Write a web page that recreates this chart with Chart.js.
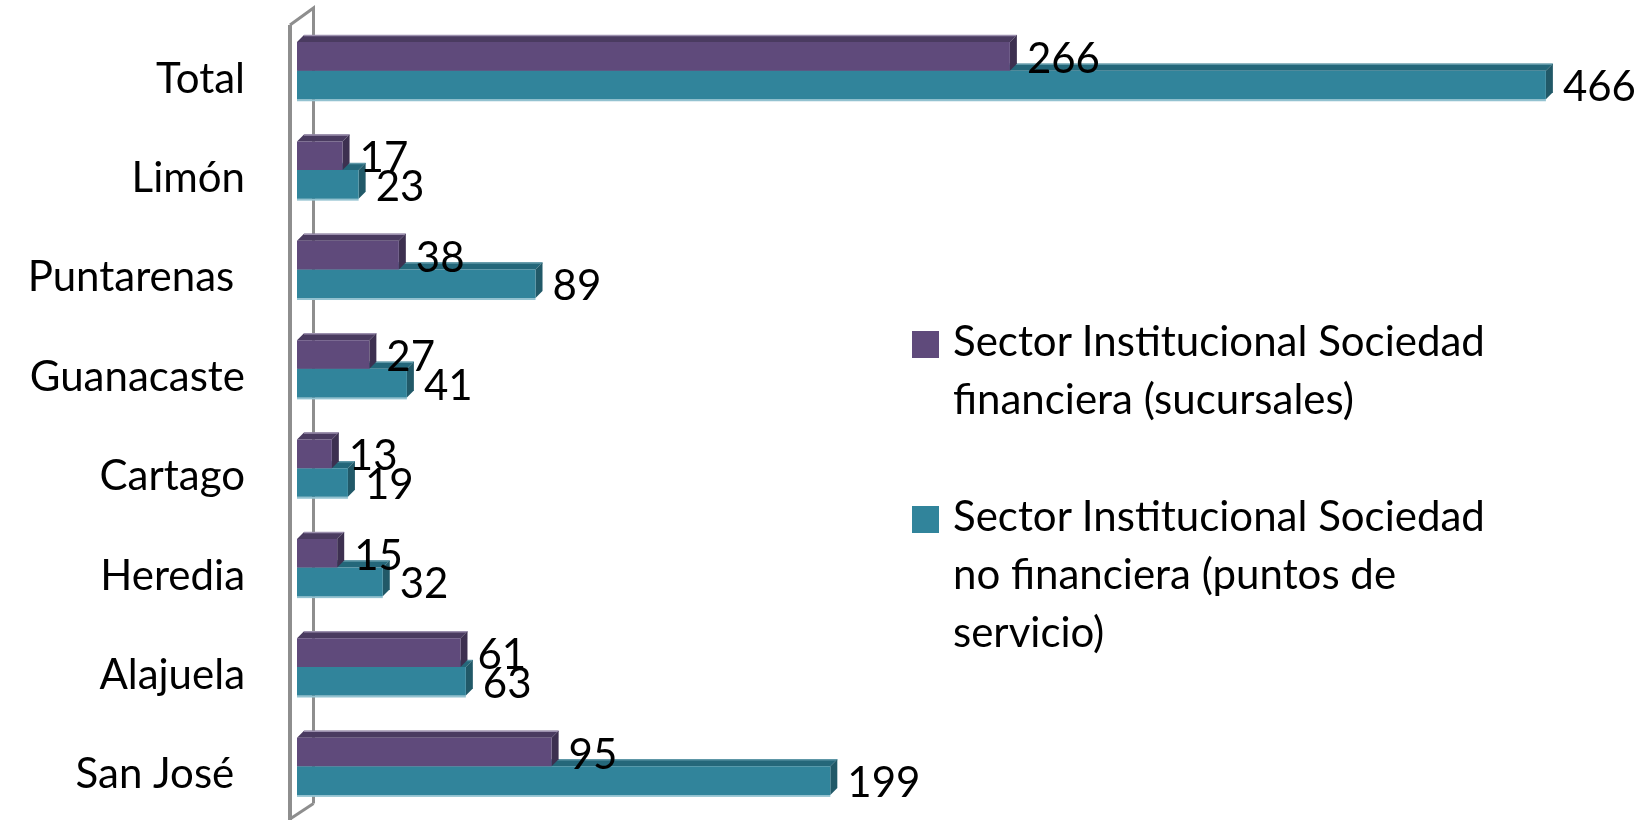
<!DOCTYPE html>
<html><head><meta charset="utf-8">
<script src="https://cdn.jsdelivr.net/npm/chart.js@4/dist/chart.umd.min.js"></script>
<style>
html,body{margin:0;padding:0;background:#fff;}
#wrap{position:relative;width:1643px;height:820px;overflow:hidden;}
#legend{position:absolute;left:912px;top:311px;font-family:Lato,sans-serif;font-size:42px;line-height:58px;color:#000;}
.li{position:relative;padding-left:41px;width:580px;margin-bottom:59px;}
.sw{position:absolute;left:0;top:20px;width:27px;height:27px;}
</style></head><body>
<div id="wrap"><canvas id="c" width="1643" height="820"></canvas><div id="legend"></div></div>
<script>
const categories = ['Total', 'Limón', 'Puntarenas ', 'Guanacaste', 'Cartago', 'Heredia', 'Alajuela', 'San José '];
const sucursales = [266, 17, 38, 27, 13, 15, 61, 95];
const puntosServicio = [466, 23, 89, 41, 19, 32, 63, 199];
const seriesNames = [
  'Sector Institucional Sociedad financiera (sucursales)',
  'Sector Institucional Sociedad no financiera (puntos de servicio)'
];
const seriesColors = ['#5F4A7B', '#31849B'];
const faceColors = [
  {top: '#4A3B60', side: '#3D3050', edge: '#9C90AE'},
  {top: '#24677A', side: '#215968', edge: '#5E97A7', bottom: '#93C2D0'}
];
const DX = 7, DY = 7;
const FONT = '42px Lato, sans-serif';

const bar3d = {
  id: 'bar3d',
  beforeDraw(chart) {
    const s = chart.scales.y;
    const items = s.getLabelItems();
    if (!items._patched) {
      items.forEach(it => { it.options.textBaseline = 'alphabetic'; it.options.translation[1] += 22; });
      items._patched = true;
    }
  },
  beforeDatasetsDraw(chart) {
    const ctx = chart.ctx, a = chart.chartArea;
    const fx = a.left - 7, bx = a.left + 16.5;
    ctx.save();
    ctx.strokeStyle = '#8E8E8E';
    ctx.lineWidth = 3;
    ctx.beginPath();
    ctx.moveTo(bx, a.bottom - 12.5);
    ctx.lineTo(bx, a.top - 13);
    ctx.lineTo(fx, a.top + 4);
    ctx.stroke();
    ctx.beginPath();
    ctx.moveTo(bx, a.bottom - 12.5);
    ctx.lineTo(fx, a.bottom + 3);
    ctx.stroke();
    ctx.lineWidth = 4;
    ctx.beginPath();
    ctx.moveTo(fx, a.top + 4);
    ctx.lineTo(fx, chart.height);
    ctx.stroke();
    ctx.restore();
  },
  beforeDatasetDraw(chart, args) {
    const ctx = chart.ctx, fc = faceColors[args.index];
    ctx.save();
    args.meta.data.forEach(el => {
      const {x, y, base, height} = el.getProps(['x', 'y', 'base', 'height'], true);
      const t = y - height / 2, b = y + height / 2;
      ctx.fillStyle = fc.top;
      ctx.beginPath();
      ctx.moveTo(base, t); ctx.lineTo(base + DX, t - DY); ctx.lineTo(x + DX, t - DY); ctx.lineTo(x, t);
      ctx.closePath(); ctx.fill();
      ctx.strokeStyle = fc.edge; ctx.lineWidth = 1.5;
      ctx.beginPath(); ctx.moveTo(base + DX, t - DY + 0.5); ctx.lineTo(x + DX, t - DY + 0.5); ctx.stroke();
      ctx.fillStyle = fc.side;
      ctx.beginPath();
      ctx.moveTo(x, t); ctx.lineTo(x + DX, t - DY); ctx.lineTo(x + DX, b - DY); ctx.lineTo(x, b);
      ctx.closePath(); ctx.fill();
      if (fc.bottom) { ctx.fillStyle = fc.bottom; ctx.fillRect(base, b, x - base, 2); }
    });
    ctx.restore();
  },
  afterDatasetsDraw(chart) {
    const ctx = chart.ctx;
    ctx.save();
    ctx.font = FONT; ctx.fillStyle = '#000'; ctx.textAlign = 'left'; ctx.textBaseline = 'alphabetic';
    for (let i = chart.data.datasets.length - 1; i >= 0; i--) {
      const ds = chart.data.datasets[i];
      chart.getDatasetMeta(i).data.forEach((el, j) => {
        ctx.fillText(String(ds.data[j]), el.x + 17, el.y + 16.5);
      });
    }
    ctx.restore();
  }
};

const chart = new Chart(document.getElementById('c'), {
  type: 'bar',
  data: {
    labels: categories,
    datasets: [
      {label: seriesNames[0], data: sucursales, backgroundColor: seriesColors[0], borderWidth: 0},
      {label: seriesNames[1], data: puntosServicio, backgroundColor: seriesColors[1], borderWidth: 0}
    ]
  },
  options: {
    indexAxis: 'y',
    responsive: false,
    animation: false,
    devicePixelRatio: 1,
    layout: {padding: {left: 0, right: 6, top: 21, bottom: 4}},
    datasets: {bar: {categoryPercentage: 0.575, barPercentage: 1.0}},
    plugins: {legend: {display: false}, tooltip: {enabled: false}},
    scales: {
      x: {display: false, min: 0, max: 500},
      y: {
        grid: {display: false, drawTicks: false},
        border: {display: false},
        ticks: {font: {family: 'Lato', size: 42, lineHeight: 0.2}, color: '#000', padding: 52},
        afterFit(scale) { scale.width = 297; scale.paddingTop = 0; scale.paddingBottom = 0; }
      }
    }
  },
  plugins: [bar3d]
});

const leg = document.getElementById('legend');
chart.data.datasets.forEach(ds => {
  const d = document.createElement('div'); d.className = 'li';
  const sw = document.createElement('span'); sw.className = 'sw'; sw.style.background = ds.backgroundColor;
  d.appendChild(sw); d.appendChild(document.createTextNode(ds.label));
  leg.appendChild(d);
});
</script>
</body></html>
